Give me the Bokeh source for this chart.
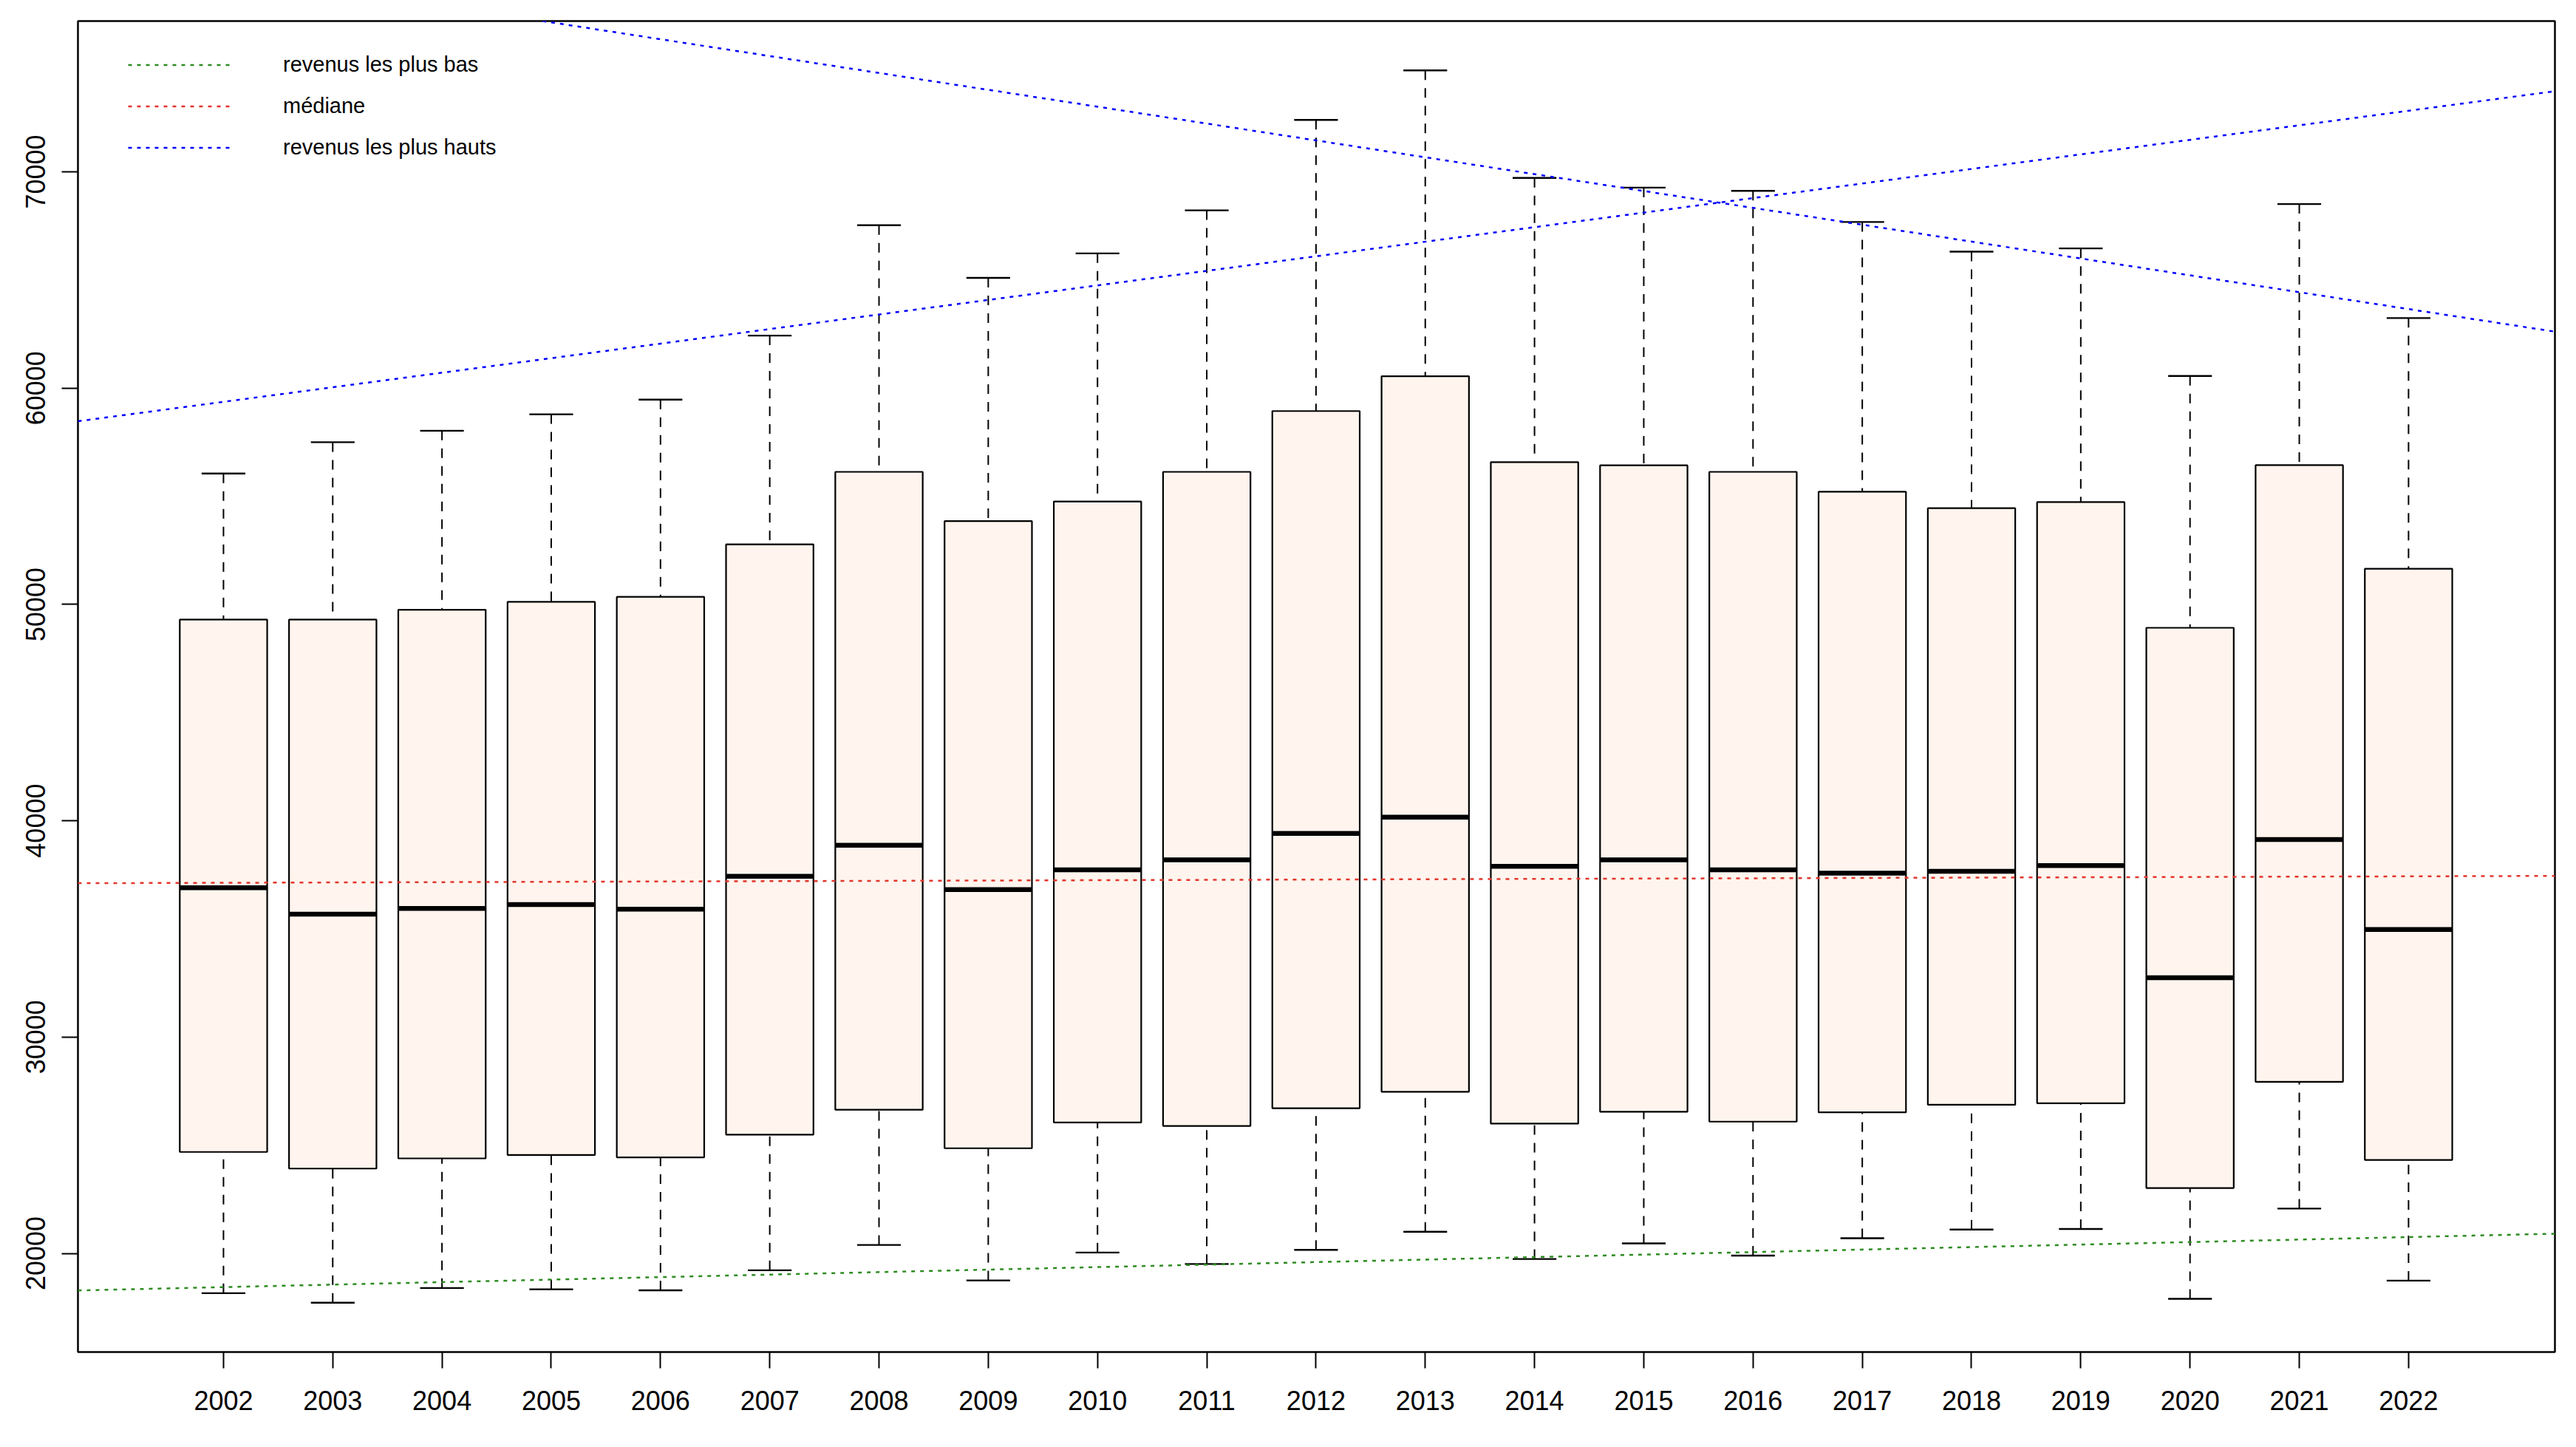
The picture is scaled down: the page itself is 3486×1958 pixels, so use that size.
from bokeh.plotting import figure
from bokeh.models import (Range1d, FixedTicker, ColumnDataSource, Legend, LegendItem)
from bokeh.embed import file_html
from bokeh.resources import INLINE

# ---------------- data ----------------
years = ["2002", "2003", "2004", "2005", "2006", "2007", "2008", "2009", "2010", "2011",
         "2012", "2013", "2014", "2015", "2016", "2017", "2018", "2019", "2020", "2021", "2022"]
whisker_low = [18160, 17720, 18400, 18340, 18290, 19220, 20390, 18750, 20040, 19510,
               20160, 21000, 19740, 20460, 19900, 20700, 21100, 21130, 17900, 22070, 18740]
q1 = [24690, 23920, 24390, 24550, 24440, 25490, 26640, 24860, 26050, 25890,
      26710, 27470, 26000, 26550, 26090, 26520, 26870, 26940, 23020, 27930, 24320]
median = [36900, 35680, 35950, 36130, 35910, 37430, 38870, 36820, 37730, 38190,
          39410, 40170, 37890, 38190, 37730, 37580, 37660, 37930, 32740, 39130, 34970]
q3 = [49300, 49300, 49750, 50120, 50350, 52780, 56130, 53850, 54760, 56130,
      58940, 60550, 56580, 56430, 56130, 55210, 54450, 54730, 48920, 56440, 51650]
whisker_high = [56050, 57500, 58030, 58790, 59470, 62430, 67530, 65100, 66230, 68220,
                72400, 74690, 69720, 69270, 69120, 67680, 66310, 66460, 60560, 68510, 63240]

y_ticks = [20000, 30000, 40000, 50000, 60000, 70000]

# trend lines (intercept at position 0, slope per year position)
trend_labels = ["revenus les plus bas", "médiane", "revenus les plus hauts", "revenus les plus hauts"]
trend_intercepts = [18324, 37118, 58694, 80029]
trend_slopes = [115.7, 14.9, 672.9, -779.7]
trend_colors = ["#2E8B22", "#E3362C", "#0000FF", "#0000FF"]

positions = list(range(1, len(years) + 1))
X_MIN, X_MAX = -0.332, 22.34

FONT = "Liberation Sans"

p = figure(width=3470, height=1942,
           x_range=Range1d(X_MIN, X_MAX), y_range=Range1d(15439, 76970),
           output_backend="svg", toolbar_location=None,
           min_border_left=105, min_border_right=13, min_border_top=28, min_border_bottom=113)

p.xgrid.visible = False
p.ygrid.visible = False
p.background_fill_color = "white"
p.border_fill_color = "white"
p.outline_line_color = "black"
p.outline_line_width = 2.5
p.outline_line_alpha = 1.0

src = ColumnDataSource(dict(x=positions, low=whisker_low, q1=q1, med=median, q3=q3, high=whisker_high))

# whiskers (dashed), drawn from the caps toward the box
p.segment(x0="x", y0="high", x1="x", y1="q3", source=src, line_color="black",
          line_width=2, line_dash="13 11")
p.segment(x0="x", y0="low", x1="x", y1="q1", source=src, line_color="black",
          line_width=2, line_dash="13 11")
# caps
p.rect(x="x", y="high", width=0.4, height=2.4, height_units="screen", source=src,
       fill_color="black", line_color=None)
p.rect(x="x", y="low", width=0.4, height=2.4, height_units="screen", source=src,
       fill_color="black", line_color=None)
# boxes
p.vbar(x="x", width=0.8, bottom="q1", top="q3", source=src, fill_color="#FFF5EE",
       line_color="black", line_width=2.2)
# medians
p.rect(x="x", y="med", width=0.8, height=6.5, height_units="screen", source=src,
       fill_color="black", line_color=None)

# trend lines across the whole x range
legend_items = {}
for lab, a, b, c in zip(trend_labels, trend_intercepts, trend_slopes, trend_colors):
    xs = [X_MIN, X_MAX]
    ys = [a + b * xv for xv in xs]
    r = p.line(x=xs, y=ys, line_color=c, line_width=2.5, line_dash="5 7")
    if lab not in legend_items:
        legend_items[lab] = r

items = [LegendItem(label=lab, renderers=[r]) for lab, r in legend_items.items()]
legend = Legend(items=items, location=(68, 1613), glyph_width=140, glyph_height=33,
                label_standoff=70, spacing=23, padding=0, margin=0,
                label_height=33, label_text_font=FONT, label_text_font_size="29px",
                label_text_color="black", border_line_alpha=0, background_fill_alpha=0)
p.add_layout(legend)

# axes
p.xaxis.ticker = FixedTicker(ticks=positions)
p.xaxis.major_label_overrides = {pos: yr for pos, yr in zip(positions, years)}
p.yaxis.ticker = FixedTicker(ticks=y_ticks)
p.yaxis.formatter.use_scientific = False
p.yaxis.major_label_orientation = "vertical"
for ax in (p.xaxis, p.yaxis):
    ax.axis_line_color = None
    ax.major_tick_out = 22
    ax.major_tick_in = 0
    ax.major_tick_line_width = 2
    ax.major_tick_line_color = "black"
    ax.minor_tick_line_color = None
    ax.major_label_text_font = FONT
    ax.major_label_text_font_size = "36px"
    ax.major_label_text_color = "black"
p.xaxis.major_label_standoff = 30
p.yaxis.major_label_standoff = 22

open("out.html", "w").write(file_html(p, INLINE))
